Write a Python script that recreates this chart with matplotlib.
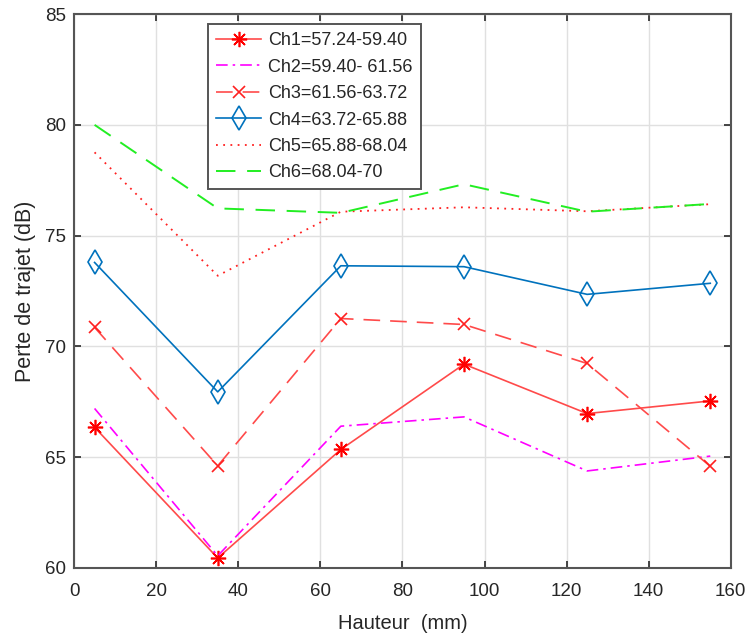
import matplotlib.pyplot as plt

plt.rcParams['font.family'] = ['Liberation Sans', 'DejaVu Sans']

# Hauteur (mm)
hauteur = [5, 35, 65, 95, 125, 155]

# Path loss per channel (dB)
ch1 = [66.35, 60.45, 65.35, 69.2, 66.97, 67.54]
ch2 = [67.2, 60.55, 66.4, 66.82, 64.38, 65.05]
ch3 = [70.86, 64.61, 71.26, 70.99, 69.23, 64.59]
ch4 = [73.79, 67.95, 73.64, 73.6, 72.35, 72.85]
ch5 = [78.76, 73.19, 76.08, 76.28, 76.1, 76.42]
ch6 = [80.0, 76.23, 76.03, 77.32, 76.08, 76.43]

labels = ["Ch1=57.24-59.40", "Ch2=59.40- 61.56", "Ch3=61.56-63.72",
          "Ch4=63.72-65.88", "Ch5=65.88-68.04", "Ch6=68.04-70"]

txt = '#262626'

fig = plt.figure(figsize=(7.48, 6.4), dpi=100)
ax = fig.add_axes([0.099, 0.1125, 0.878, 0.8655])

# asterisk marker, like matlab '*'
star = (8, 2, 0)

ax.plot(hauteur, ch1, color='#ff4a4a', lw=1.2, marker=star, ms=11, mew=1.2,
        mec='#ff0000', label=labels[0])
ax.plot(hauteur, ch2, color='#ff00ff', lw=1.2, ls=(0, (7, 3, 1.5, 3)),
        label=labels[1])
ax.plot(hauteur, ch3, color='#ff4a4a', lw=1.2, ls=(0, (10, 6)), marker='x',
        ms=9, mew=1.2, mec='#ff2020', label=labels[2])
ax.plot(hauteur, ch4, color='#0072BD', lw=1.2, marker='d', ms=12,
        mfc='none', mec='#0072BD', mew=1.2, label=labels[3])
ax.plot(hauteur, ch5, color='#ff2020', lw=1.3, ls=(0, (1, 3)),
        label=labels[4])
ax.plot(hauteur, ch6, color='#22ee22', lw=1.4, ls=(0, (10, 6)),
        label=labels[5])

ax.set_xlim(0, 160)
ax.set_ylim(60, 85)
ax.set_xticks(range(0, 161, 20))
ax.set_yticks(range(60, 86, 5))

ax.grid(True, color='#e0e0e0', lw=1)
ax.set_axisbelow(True)
ax.tick_params(direction='in', top=True, right=True, length=5,
               labelsize=13.5, colors=txt, width=1.2)
ax.tick_params(axis='x', pad=11)
ax.tick_params(axis='y', pad=6)
for s in ax.spines.values():
    s.set_color('#555555')
    s.set_linewidth(1.5)

ax.set_xlabel("Hauteur  (mm)", fontsize=14.5, color=txt, labelpad=10)
ax.set_ylabel("Perte de trajet (dB)", fontsize=15.5, color=txt, labelpad=6)

leg = ax.legend(loc='upper left', bbox_to_anchor=(0.19, 0.998), fontsize=13,
                fancybox=False, edgecolor='#555555', framealpha=1,
                handlelength=2.5, labelspacing=0.52, borderpad=0.45,
                handletextpad=0.4)
leg.get_frame().set_linewidth(1.4)
for t in leg.get_texts():
    t.set_color(txt)

fig.savefig("out.png", dpi=100)
